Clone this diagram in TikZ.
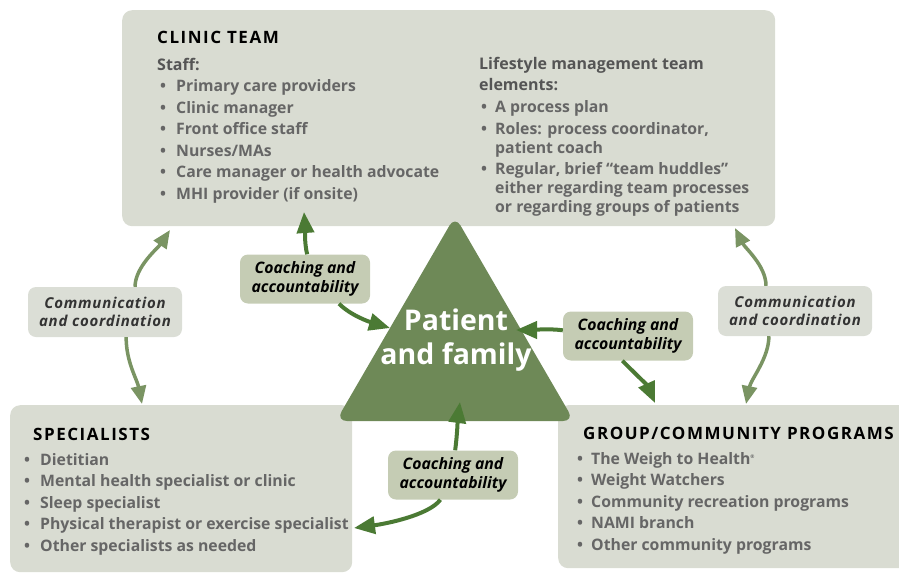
\documentclass[tikz,border=0pt]{standalone}
\usepackage{fontspec}
\setmainfont{Open Sans}
\usetikzlibrary{positioning}
\usetikzlibrary{arrows.meta,calc}

\definecolor{boxgray}{HTML}{D9DCD2}
\definecolor{trigreen}{HTML}{6E8957}
\definecolor{darkgreen}{HTML}{4B7A34}
\definecolor{lightgreen}{HTML}{7A9463}
\definecolor{coachfill}{HTML}{C5CCB4}
\definecolor{commfill}{HTML}{DBDED6}
\definecolor{itemgray}{HTML}{666666}
\definecolor{headgray}{HTML}{555555}

\newcommand{\itm}[1]{\makebox[16pt][l]{\textbullet}#1}
\newcommand{\itmn}[1]{\makebox[14pt][l]{\textbullet}#1}
\newcommand{\cont}[1]{\hspace*{14pt}#1}

\tikzset{
  box/.style={fill=boxgray, rounded corners=10pt, inner sep=0pt, anchor=north west},
  boxtitle/.style={anchor=base west, inner sep=0pt, text=black,
    font=\fontsize{17}{20}\selectfont\bfseries\addfontfeature{LetterSpace=9}},
  subhead/.style={anchor=base west, inner sep=0pt, text=headgray, align=left,
    font=\fontsize{16}{21}\selectfont\bfseries},
  itemlist/.style={anchor=base west, inner sep=0pt, text=itemgray, align=left,
    font=\fontsize{15.8}{21.6}\selectfont\bfseries},
  coach/.style={fill=coachfill, rounded corners=8pt, align=center, inner sep=0pt,
    minimum width=130pt, minimum height=49pt, text=black,
    font=\fontsize{15.8}{18.5}\selectfont\bfseries\itshape},
  comm/.style={fill=commfill, rounded corners=8pt, align=center, inner sep=0pt,
    minimum width=154pt, minimum height=50pt, text=black!80,
    font=\fontsize{15}{18.5}\selectfont\bfseries\itshape\addfontfeature{LetterSpace=5}},
  darrow/.style={draw=darkgreen, line width=4pt,
    -{Triangle[length=21pt,width=17pt]}},
  larrow/.style={draw=lightgreen, line width=3.5pt,
    -{Triangle[length=18pt,width=15pt]}},
}

\begin{document}
\begin{tikzpicture}[x=1pt,y=-1pt]
\useasboundingbox (0,0) rectangle (899,573);

% the three groups
\node[box, minimum width=653pt, minimum height=216pt] (clinic) at (122,10) {};
\node[box, minimum width=342pt, minimum height=167pt] (spec) at (10,405) {};
\node[box, minimum width=360pt, minimum height=163pt] (group) at (558,405) {};

% clinic team (multi-line nodes sit on their last baseline)
\node[boxtitle] (clinictitle) at (157,43) {CLINIC TEAM};
\node[subhead] (staffhead) at (157,70) {Staff:};
\node[itemlist] (stafflist) at (160,199.5) {\itm{Primary care providers}\\
  \itm{Clinic manager}\\ \itm{Front office staff}\\ \itm{Nurses/MAs}\\
  \itm{Care manager or health advocate}\\ \itm{MHI provider (if onsite)}};
\node[subhead] (lifehead) at (479,90.5) {Lifestyle management team\\elements:};
\node[itemlist, font=\fontsize{15.8}{19}\selectfont\bfseries] (lifelist) at (481,212.5)
  {\itmn{A process plan}\\[2.5pt]
   \itmn{Roles: process coordinator,}\\ \cont{patient coach}\\[2.5pt]
   \itmn{Regular, brief “team huddles”}\\ \cont{either regarding team processes}\\
   \cont{or regarding groups of patients}};

% specialists
\node[boxtitle] (spectitle) at (33,440) {SPECIALISTS};
\node[itemlist] (speclist) at (24,551.5) {\itm{Dietitian}\\
  \itm{Mental health specialist or clinic}\\ \itm{Sleep specialist}\\
  \itm{Physical therapist or exercise specialist}\\ \itm{Other specialists as needed}};

% group/community programs
\node[boxtitle] (grouptitle) at (583,439) {GROUP/COMMUNITY PROGRAMS};
\node[itemlist] (grouplist) at (577,550.5) {\itmn{The Weigh to Health\textsuperscript{\tiny ®}}\\
  \itmn{Weight Watchers}\\ \itmn{Community recreation programs}\\
  \itmn{NAMI branch}\\ \itmn{Other community programs}};

% patient and family
\fill[trigreen, rounded corners=11pt] (455,216) -- (574,421) -- (336,421) -- cycle;
\node[text=white, align=center, inner sep=0pt,
  font=\fontsize{28.5}{34}\selectfont\bfseries] (patient) at (456,340) {Patient\\and family};

% labels on the links
\node[coach] (coachTL) at (305,279) {Coaching and\\accountability};
\node[coach] (coachR) at (628,336) {Coaching and\\accountability};
\node[coach] (coachB) at (453,475) {Coaching and\\accountability};
\node[comm] (commL) at (105,312) {Communication\\and coordination};
\node[comm] (commR) at (795,311) {Communication\\and coordination};

% arrow ends
\coordinate (tipCL) at (170,230);
\coordinate (tipSL) at (142,404);
\coordinate (tipCR) at (735,228);
\coordinate (tipGR) at (746,404);
\coordinate (tipC) at (304,212);
\coordinate (tipPL) at (390,328);
\coordinate (tipPR) at (516,330);
\coordinate (tipG) at (655,403);
\coordinate (tipPB) at (460,402);
\coordinate (tipS) at (354,528);

% communication and coordination
\draw[larrow] (commL.40) .. controls +(0,-20) and +(-12,18) .. (tipCL);
\draw[larrow] (commL.-50) .. controls +(0,25) and +(-5,-25) .. (tipSL);
\draw[larrow] (commR.139) .. controls +(0,-20) and +(10,20) .. (tipCR);
\draw[larrow] (commR.-136) .. controls +(0,22) and +(5,-25) .. (tipGR);

% coaching and accountability
\draw[darrow] (coachTL.85) .. controls +(-3,-12) and +(1,14) .. (tipC);
\draw[darrow] (coachTL.-36) .. controls +(12,12) and +(-20,-6) .. (tipPL);
\draw[darrow] (coachR.175) .. controls +(-15,-2) and +(15,0) .. (tipPR);
\draw[darrow] (coachR.-103) .. controls +(12,12) and +(-8,-18) .. (tipG);
\draw[darrow] (coachB.85) .. controls +(2,-15) and +(-2,15) .. (tipPB);
\draw[darrow] (coachB.-117) .. controls +(-12,16) and +(30,-4) .. (tipS);
\end{tikzpicture}
\end{document}
